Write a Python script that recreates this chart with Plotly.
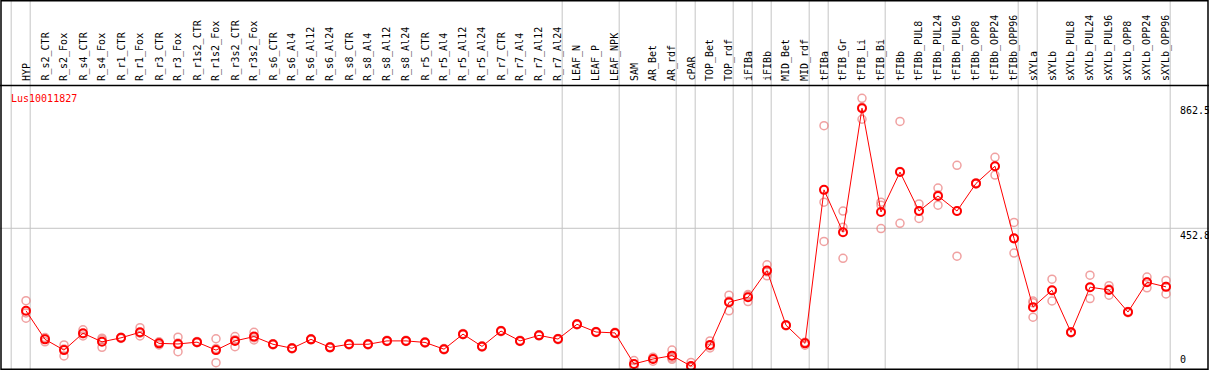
import plotly.graph_objects as go

W, H = 1209, 370

categories = [
    "HYP", "R_s2_CTR", "R_s2_Fox", "R_s4_CTR", "R_s4_Fox", "R_r1_CTR", "R_r1_Fox",
    "R_r3_CTR", "R_r3_Fox", "R_r1s2_CTR", "R_r1s2_Fox", "R_r3s2_CTR", "R_r3s2_Fox",
    "R_s6_CTR", "R_s6_Al4", "R_s6_Al12", "R_s6_Al24", "R_s8_CTR", "R_s8_Al4",
    "R_s8_Al12", "R_s8_Al24", "R_r5_CTR", "R_r5_Al4", "R_r5_Al12", "R_r5_Al24",
    "R_r7_CTR", "R_r7_Al4", "R_r7_Al12", "R_r7_Al24", "LEAF_N", "LEAF_P", "LEAF_NPK",
    "SAM", "AR_Bet", "AR_rdf", "cPAR", "TOP_Bet", "TOP_rdf", "iFIBa", "iFIBb",
    "MID_Bet", "MID_rdf", "tFIBa", "tFIB_Gr", "tFIB_Li", "tFIB_Bi", "tFIBb",
    "tFIBb_PUL8", "tFIBb_PUL24", "tFIBb_PUL96", "tFIBb_OPP8", "tFIBb_OPP24",
    "tFIBb_OPP96", "sXYLa", "sXYLb", "sXYLb_PUL8", "sXYLb_PUL24", "sXYLb_PUL96",
    "sXYLb_OPP8", "sXYLb_OPP24", "sXYLb_OPP96",
]

mean_values = [
    184, 91, 56, 111, 83, 96, 114, 78, 76, 82, 56, 86, 100,
    75, 62, 91, 65, 75, 75, 86, 86, 81, 59, 108, 68,
    118, 86, 104, 92, 140, 115, 112,
    11, 27, 38, 4, 73, 212, 228, 315,
    137, 78, 578, 440, 844, 506, 636,
    509, 558, 509, 599, 655,
    420, 196, 251, 114, 261, 252,
    180, 277, 262,
]

rep_a = [
    217, 93, 73, 122, 95, 98, 129, 83, 98, 84, 93, 100, 114,
    77, 64, 93, 67, 77, 77, 88, 88, 83, 61, 110, 70,
    120, 88, 106, 94, 142, 117, 114,
    22, 33, 56, 16, 86, 235, 233, 334,
    139, 80, 787, 509, 876, 538, 801,
    532, 584, 658, 601, 684,
    472, 216, 287, 116, 300, 266,
    182, 294, 283,
]

rep_b = [
    177, 97, 60, 109, 90, 94, 111, 80, 79, 80, 61, 90, 96,
    73, 60, 89, 63, 73, 73, 84, 84, 79, 57, 106, 66,
    116, 84, 102, 90, 138, 113, 110,
    10, 27, 31, 0, 70, 216, 237, 311,
    135, 82, 538, 456, 847, 528, 638,
    510, 562, 508, 597, 655,
    418, 210, 250, 112, 260, 255,
    178, 278, 263,
]

rep_c = [
    160, 83, 37, 102, 65, 96, 102, 73, 51, 83, 15, 67, 89,
    75, 62, 91, 65, 75, 75, 86, 86, 81, 59, 108, 68,
    118, 86, 104, 92, 140, 115, 112,
    2, 20, 26, 0, 63, 184, 214, 298,
    137, 72, 410, 355, 808, 452, 469,
    485, 528, 362, 599, 626,
    372, 163, 216, 114, 224, 235,
    180, 259, 239,
]

gene_label = "Lus10011827"
ytick_vals = [862.5, 452.8, 0]
ytick_text = ["862.5", "452.8", "0"]
grid_value = 452.8
# separators drawn after these categories (plus one before the first)
group_ends = ["HYP", "R_r7_Al24", "LEAF_NPK", "AR_rdf", "cPAR", "TOP_rdf", "iFIBa",
              "iFIBb", "MID_rdf", "tFIBa", "tFIB_Bi", "tFIBb_OPP96", "sXYLa",
              "sXYLb_OPP96"]

FONT = "DejaVu Sans Mono"
RED = "#ff0000"
PINK = "rgba(232,110,110,0.65)"
GRAY = "#c4c4c4"

# pixel geometry
x_first_px = 26.0
step_px = 19.0
x_range = [-x_first_px / step_px, (W - x_first_px) / step_px]
y0_px = 367.3        # pixel row of value 0
px_per_unit = 0.307
y_range = [-(H - y0_px) / px_per_unit, y0_px / px_per_unit]
header_px = 85.5

fig = go.Figure()

for reps in (rep_a, rep_b, rep_c):
    fig.add_trace(go.Scatter(
        x=categories, y=reps, mode="markers",
        marker=dict(symbol="circle-open", size=8, color=PINK, line=dict(width=1.5)),
        hoverinfo="skip", showlegend=False,
    ))

fig.add_trace(go.Scatter(
    x=categories, y=mean_values, mode="lines+markers",
    line=dict(color=RED, width=1),
    marker=dict(symbol="circle-open", size=8, color=RED, line=dict(width=2)),
    showlegend=False,
))

shapes = []
# vertical separators
sep_positions = [-1 + 0.22] + [categories.index(c) + 0.22 for c in group_ends]
for xs in sep_positions:
    shapes.append(dict(type="line", xref="x", yref="paper", x0=xs, x1=xs, y0=0, y1=1,
                       line=dict(color=GRAY, width=1), layer="below"))
# horizontal grid line
shapes.append(dict(type="line", xref="paper", yref="y", x0=0, x1=1, y0=grid_value,
                   y1=grid_value, line=dict(color=GRAY, width=1), layer="below"))
# header separator
hy = 1 - header_px / H
shapes.append(dict(type="line", xref="paper", yref="paper", x0=0, x1=1, y0=hy, y1=hy,
                   line=dict(color="black", width=1.5)))
# border
shapes.append(dict(type="rect", xref="paper", yref="paper",
                   x0=1.0 / W, x1=1208.0 / W, y0=0.8 / H, y1=1 - 0.8 / H,
                   line=dict(color="black", width=1.5)))

annotations = []
for c in categories:
    annotations.append(dict(
        x=c, xref="x", y=1 - 83.0 / H, yref="paper", text=c, textangle=-90,
        showarrow=False, xanchor="center", yanchor="bottom",
        font=dict(family=FONT, size=10, color="black"),
    ))

annotations.append(dict(
    x=9.0 / W, xref="paper", y=1 - 91.0 / H, yref="paper", text=gene_label,
    showarrow=False, xanchor="left", yanchor="top",
    font=dict(family=FONT, size=10, color=RED),
))

for v, t in zip(ytick_vals, ytick_text):
    annotations.append(dict(
        x=1178.0 / W, xref="paper", y=v, yref="y", text=t, showarrow=False,
        xanchor="left", yanchor="bottom" if v == 0 else "top",
        font=dict(family=FONT, size=10, color="black"),
    ))

fig.update_layout(
    width=W, height=H,
    margin=dict(l=0, r=0, t=0, b=0),
    paper_bgcolor="white", plot_bgcolor="white",
    xaxis=dict(range=x_range, showgrid=False, zeroline=False, showticklabels=False,
               ticks="", showline=False, fixedrange=True),
    yaxis=dict(range=y_range, showgrid=False, zeroline=False, showticklabels=False,
               ticks="", showline=False, fixedrange=True),
    shapes=shapes, annotations=annotations,
    showlegend=False,
)

fig.write_html("out.html", config={"displayModeBar": False},
               post_script="document.body.style.margin='0';")
